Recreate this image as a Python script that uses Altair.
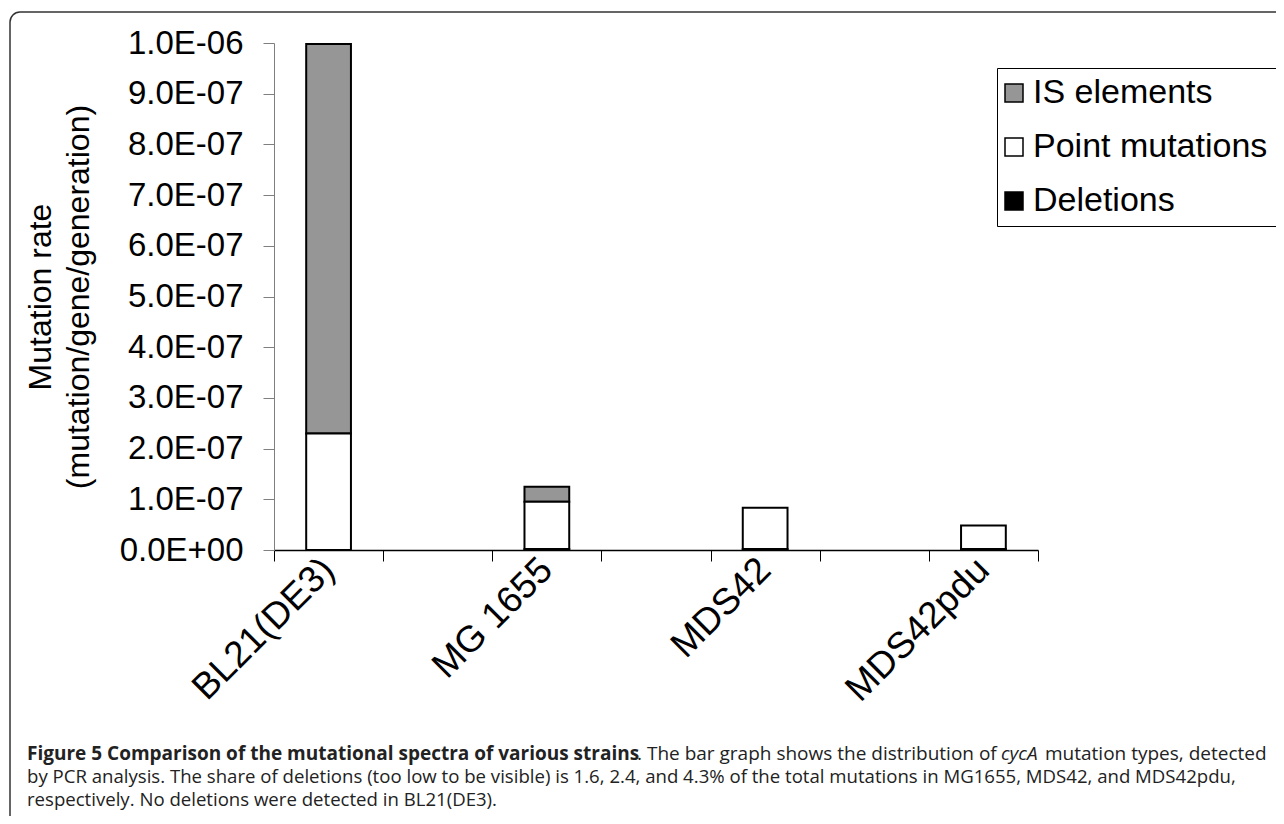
import altair as alt
import pandas as pd

FONT = "Liberation Sans"
CAP_FONT = "Open Sans"

# ---- data ----
strains = ["BL21(DE3)", "MG 1655", "MDS42", "MDS42pdu"]
point_mutations = [2.30e-7, 0.93e-7, 0.815e-7, 0.46e-7]
is_elements = [7.68e-7, 0.30e-7, 0.0, 0.0]
deletions = [0.0, 0.02e-7, 0.02e-7, 0.021e-7]

series_names = ["IS elements", "Point mutations", "Deletions"]
series_colors = ["#969696", "#ffffff", "#000000"]
stack_rank = {"Deletions": 0, "Point mutations": 1, "IS elements": 2}

# category slots on the x axis (empty slots between strains, as in the figure)
x_slots = ["BL21(DE3)", " ", "MG 1655", "  ", "MDS42", "   ", "MDS42pdu"]
y_tick_values = [0.0, 1e-7, 2e-7, 3e-7, 4e-7, 5e-7, 6e-7, 7e-7, 8e-7, 9e-7, 1e-6]
y_title = ["Mutation rate", "(mutation/gene/generation)"]

caption_bold = "Figure 5 Comparison of the mutational spectra of various strains"
caption_1a = ". The bar graph shows the distribution of"
caption_1b = "cycA"
caption_1c = "mutation types, detected"
caption_2 = ("by PCR analysis. The share of deletions (too low to be visible) is 1.6, 2.4, "
             "and 4.3% of the total mutations in MG1655, MDS42, and MDS42pdu,")
caption_3 = "respectively. No deletions were detected in BL21(DE3)."

rows = []
for s, p, i, d in zip(strains, point_mutations, is_elements, deletions):
    for name, v in (("IS elements", i), ("Point mutations", p), ("Deletions", d)):
        if v > 0:
            rows.append({"strain": s, "type": name, "value": v, "rank": stack_rank[name]})
df = pd.DataFrame(rows)

edges = pd.DataFrame({"edge": list(range(len(x_slots) + 1))})
one = pd.DataFrame({"k": [0]})

bars = alt.Chart(df).mark_bar(
    stroke="black", strokeWidth=2, width=alt.RelativeBandSize(0.41)
).encode(
    x=alt.X(
        "strain:N",
        scale=alt.Scale(domain=x_slots, paddingInner=0, paddingOuter=0),
        axis=alt.Axis(
            title=None, ticks=False, domain=True, domainColor="black", domainWidth=1.5,
            labelAngle=-45, labelAlign="right", labelBaseline="middle",
            labelFont=FONT, labelFontSize=37, labelColor="black", labelPadding=14,
            labelOverlap=False, labelLimit=400, orient="bottom",
        ),
    ),
    y=alt.Y(
        "value:Q",
        stack="zero",
        scale=alt.Scale(domain=[0, 1e-6], nice=False),
        axis=alt.Axis(
            values=y_tick_values,
            labelExpr="replace(replace(format(datum.value, '.1e'), 'e-', 'E-0'), 'e+', 'E+0')",
            labelFont=FONT, labelFontSize=33, labelColor="black", labelPadding=20,
            labelOverlap=False,
            tickSize=11, tickColor="#7f7f7f", domainColor="#7f7f7f", grid=False,
            title=y_title, titleFont=FONT, titleFontSize=32, titleFontWeight="normal",
            titleColor="black", titlePadding=24, titleLineHeight=38,
        ),
    ),
    color=alt.Color(
        "type:N",
        scale=alt.Scale(domain=series_names, range=series_colors),
        legend=alt.Legend(
            title=None, orient="none", legendX=723, legendY=25, direction="vertical",
            strokeColor="black", fillColor="white", padding=8,
            symbolType="square", symbolSize=324, symbolStrokeColor="black",
            symbolStrokeWidth=1.5, symbolOpacity=1, symbolOffset=-8,
            labelFont=FONT, labelFontSize=34, labelColor="black", labelOffset=2,
            labelLimit=400, rowPadding=20,
        ),
    ),
    order=alt.Order("rank:Q", sort="ascending"),
)

ticks = alt.Chart(edges).mark_point(opacity=0).encode(
    x=alt.X(
        "edge:Q",
        scale=alt.Scale(domain=[0, len(x_slots)], nice=False, zero=False),
        axis=alt.Axis(
            orient="bottom", values=list(range(len(x_slots) + 1)), labels=False,
            ticks=True, tickSize=11, tickColor="black", domain=False, grid=False, title=None,
        ),
    )
)

frame = alt.Chart(one).mark_rect(
    fill="white", fillOpacity=0, stroke="#333333", strokeWidth=1.5, cornerRadius=10
).encode(
    x=alt.value(-264), x2=alt.value(1030), y=alt.value(-31), y2=alt.value(800)
)


def cap(text, x, y, size, weight="normal", style="normal", align="left"):
    return alt.Chart(one).mark_text(
        align=align, baseline="alphabetic", font=CAP_FONT, fontSize=size,
        fontWeight=weight, fontStyle=style, color="#222222",
    ).encode(x=alt.value(x), y=alt.value(y), text=alt.value(text))


captions = [
    cap(caption_bold, -247, 717, 19, weight="bold"),
    cap(caption_1a, 363, 717, 19),
    cap(caption_1b, 727, 717, 19, style="italic"),
    cap(caption_1c, 771, 717, 19),
    cap(caption_2, -247, 740, 18.6),
    cap(caption_3, -247, 763, 18.6),
]

chart = alt.layer(frame, bars, ticks, *captions).resolve_scale(
    x="independent"
).properties(
    width=764, height=507,
    padding={"left": 266, "top": 35, "right": 238, "bottom": 266},
    autosize=alt.AutoSizeParams(type="none"),
    background="white",
).configure_view(stroke=None)

chart.save("out.html", embed_options={"renderer": "svg", "actions": False})
